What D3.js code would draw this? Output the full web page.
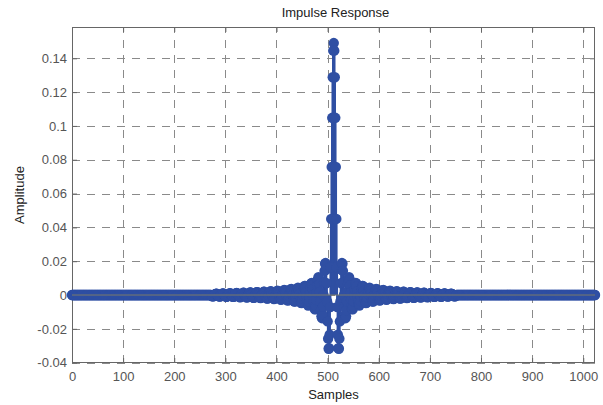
<!DOCTYPE html>
<html>
<head>
<meta charset="utf-8">
<script src="https://cdn.jsdelivr.net/npm/d3@7"></script>
<style>
  body { margin: 0; background: #fff; }
  svg text { font-family: "Liberation Sans", Arial, sans-serif; }
</style>
</head>
<body>
<div id="chart"></div>
<script>
const NUM_SAMPLES = 1024;
const CENTER_SAMPLE = 512;

/* amplitude at CENTER_SAMPLE +/- k, k = 0..240 (the response is symmetric),
   read off the plot; samples further out sit on zero */
const halfResponse = [
  0.1490,
  0.1445, 0.1288, 0.1048, 0.0757, 0.0450, 0.0164, -0.0071, -0.0234, -0.0315, -0.0318,
  -0.0258, -0.0156, -0.0038, 0.0070, 0.0150, 0.0189, 0.0185, 0.0143, 0.0076, 0,
  -0.0069, -0.0117, -0.0137, -0.0126, -0.0090, -0.0038, 0.0018, 0.0066, 0.0097, 0.0105,
  0.0091, 0.0058, 0.0015, -0.0029, -0.0064, -0.0083, -0.0084, -0.0067, -0.0037, 0,
  0.0035, 0.0060, 0.0072, 0.0068, 0.0049, 0.0021, -0.0011, -0.0038, -0.0057, -0.0062,
  -0.0054, -0.0035, -0.0009, 0.0018, 0.0040, 0.0053, 0.0054, 0.0043, 0.0024, 0,
  -0.0023, -0.0040, -0.0048, -0.0046, -0.0033, -0.0014, 0.0007, 0.0026, 0.0039, 0.0044,
  0.0038, 0.0025, 0.0007, -0.0013, -0.0029, -0.0038, -0.0039, -0.0031, -0.0017, 0,
  0.0017, 0.0030, 0.0036, 0.0034, 0.0025, 0.0011, -0.0005, -0.0020, -0.0030, -0.0033,
  -0.0029, -0.0019, -0.0005, 0.0010, 0.0022, 0.0029, 0.0030, 0.0024, 0.0013, 0,
  -0.0013, -0.0023, -0.0028, -0.0026, -0.0019, -0.0008, 0.0004, 0.0016, 0.0023, 0.0026,
  0.0023, 0.0015, 0.0004, -0.0008, -0.0017, -0.0023, -0.0024, -0.0019, -0.0011, 0,
  0.0010, 0.0018, 0.0022, 0.0021, 0.0016, 0.0007, -0.0003, -0.0013, -0.0019, -0.0021,
  -0.0019, -0.0012, -0.0003, 0.0006, 0.0014, 0.0019, 0.0019, 0.0016, 0.0009, 0,
  -0.0009, -0.0015, -0.0018, -0.0017, -0.0013, -0.0006, 0.0003, 0.0010, 0.0016, 0.0017,
  0.0015, 0.0010, 0.0003, -0.0005, -0.0012, -0.0016, -0.0016, -0.0013, -0.0007, 0,
  0.0007, 0.0013, 0.0015, 0.0015, 0.0011, 0.0005, -0.0002, -0.0009, -0.0013, -0.0014,
  -0.0013, -0.0008, -0.0002, 0.0004, 0.0010, 0.0013, 0.0013, 0.0011, 0.0006, 0,
  -0.0006, -0.0011, -0.0013, -0.0012, -0.0009, -0.0004, 0.0002, 0.0007, 0.0011, 0.0012,
  0.0011, 0.0007, 0.0002, -0.0004, -0.0008, -0.0011, -0.0011, -0.0009, -0.0005, 0,
  0.0005, 0.0009, 0.0011, 0.0010, 0.0007, 0.0003, -0.0002, -0.0006, -0.0009, -0.0010,
  -0.0009, -0.0006, -0.0002, 0.0003, 0.0007, 0.0009, 0.0009, 0.0008, 0.0004, 0,
  -0.0004, -0.0007, -0.0009, -0.0008, -0.0006, -0.0003, 0.0001, 0.0005, 0.0008, 0.0008,
  0.0007, 0.0005, 0.0001, -0.0003, -0.0006, -0.0008, -0.0008, -0.0006, -0.0004, 0
];

const xTicks = [0, 100, 200, 300, 400, 500, 600, 700, 800, 900, 1000];
const yTicks = [-0.04, -0.02, 0, 0.02, 0.04, 0.06, 0.08, 0.1, 0.12, 0.14];

const TITLE = "Impulse Response";
const X_LABEL = "Samples";
const Y_LABEL = "Amplitude";

const STEM_COLOR = "#2f4fa3";

// one record per sample
const samples = d3.range(NUM_SAMPLES).map((n) => {
  const k = Math.abs(n - CENTER_SAMPLE);
  return { n: n, value: k < halfResponse.length ? halfResponse[k] : 0 };
});

const W = 603, H = 405;
const margin = { top: 27, right: 8, bottom: 42, left: 72 };

const svg = d3.select("#chart").append("svg")
  .attr("width", W)
  .attr("height", H);

const x = d3.scaleLinear()
  .domain([0, NUM_SAMPLES - 1])
  .range([margin.left, W - margin.right]);

const y = d3.scaleLinear()
  .domain([-0.0402, 0.1585])
  .range([H - margin.bottom, margin.top]);

const fmtY = (d) => String(+d.toFixed(2));
const fmtX = (d) => String(d);

// dashed grid
const grid = svg.append("g")
  .attr("stroke", "#8a8a8a")
  .attr("stroke-width", 1)
  .attr("stroke-dasharray", "8,7");

grid.selectAll(".gx")
  .data(xTicks.filter((d) => d > 0))
  .join("line")
  .attr("x1", (d) => Math.round(x(d)) + 0.5)
  .attr("x2", (d) => Math.round(x(d)) + 0.5)
  .attr("y1", y.range()[0])
  .attr("y2", y.range()[1]);

grid.selectAll(".gy")
  .data(yTicks)
  .join("line")
  .attr("y1", (d) => Math.round(y(d)) + 0.5)
  .attr("y2", (d) => Math.round(y(d)) + 0.5)
  .attr("x1", x.range()[0])
  .attr("x2", x.range()[1]);

// axes, ticks inward
function styleAxis(g) {
  g.select(".domain").remove();
  g.selectAll(".tick line").attr("stroke", "#666");
  g.selectAll("text")
    .attr("fill", "#555")
    .style("font-size", "13px");
}

svg.append("g")
  .attr("transform", `translate(0,${H - margin.bottom})`)
  .call(d3.axisBottom(x).tickValues(xTicks).tickFormat(fmtX).tickSizeInner(-5).tickSizeOuter(0).tickPadding(9))
  .call(styleAxis);

svg.append("g")
  .attr("transform", `translate(${margin.left},0)`)
  .call(d3.axisLeft(y).tickValues(yTicks).tickFormat(fmtY).tickSizeInner(-5).tickSizeOuter(0).tickPadding(5))
  .call(styleAxis);

svg.append("g")
  .attr("transform", `translate(0,${margin.top})`)
  .call(d3.axisTop(x).tickValues(xTicks).tickFormat("").tickSizeInner(-5).tickSizeOuter(0))
  .call(styleAxis);

svg.append("g")
  .attr("transform", `translate(${W - margin.right},0)`)
  .call(d3.axisRight(y).tickValues(yTicks).tickFormat("").tickSizeInner(-5).tickSizeOuter(0))
  .call(styleAxis);

// box
svg.append("rect")
  .attr("x", margin.left + 0.5)
  .attr("y", margin.top + 0.5)
  .attr("width", W - margin.left - margin.right - 1)
  .attr("height", H - margin.top - margin.bottom - 1)
  .attr("fill", "none")
  .attr("stroke", "#666")
  .attr("stroke-width", 1);

// stems
svg.append("g")
  .selectAll("line")
  .data(samples.filter((d) => d.value !== 0))
  .join("line")
  .attr("x1", (d) => x(d.n))
  .attr("x2", (d) => x(d.n))
  .attr("y1", y(0))
  .attr("y2", (d) => y(d.value))
  .attr("stroke", STEM_COLOR)
  .attr("stroke-width", 2.5);

// markers
svg.append("g")
  .selectAll("circle")
  .data(samples)
  .join("circle")
  .attr("cx", (d) => x(d.n))
  .attr("cy", (d) => y(d.value))
  .attr("r", 5.2)
  .attr("fill", STEM_COLOR);

// baseline
svg.append("line")
  .attr("x1", x.range()[0])
  .attr("x2", x.range()[1])
  .attr("y1", y(0))
  .attr("y2", y(0))
  .attr("stroke", "#7a7a6a")
  .attr("stroke-width", 1);

// labels
svg.append("text")
  .attr("x", (margin.left + W - margin.right) / 2 + 2)
  .attr("y", 16.5)
  .attr("text-anchor", "middle")
  .attr("fill", "#222")
  .style("font-size", "13px")
  .text(TITLE);

svg.append("text")
  .attr("x", (margin.left + W - margin.right) / 2)
  .attr("y", 399)
  .attr("text-anchor", "middle")
  .attr("fill", "#222")
  .style("font-size", "13px")
  .text(X_LABEL);

svg.append("text")
  .attr("transform", `translate(24,${(margin.top + H - margin.bottom) / 2}) rotate(-90)`)
  .attr("text-anchor", "middle")
  .attr("fill", "#222")
  .style("font-size", "13px")
  .text(Y_LABEL);
</script>
</body>
</html>
